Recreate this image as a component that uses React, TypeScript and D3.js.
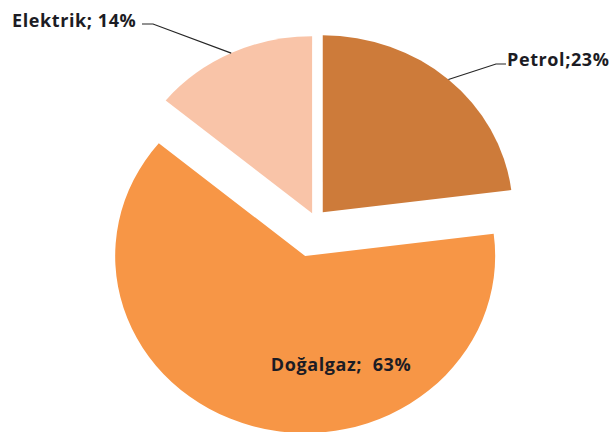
import React, { useEffect, useRef } from 'react';
import * as d3 from 'd3';

const categories = ['Petrol', 'Doğalgaz', 'Elektrik'];
const shares = [23, 63, 14];
const labels = ['Petrol;23%', 'Doğalgaz;  63%', 'Elektrik; 14%'];
const colors = ['#CD7B3A', '#F79646', '#F9C4A8'];

const WIDTH = 613;
const HEIGHT = 432;
const CENTER = { x: 315.5, y: 220.5 };
const RY = 177;
const SX = 190 / 177;
// explosion distance for each slice (px)
const EXPLODE = [11, 37, 8];

// label placement, plus leader elbow when the label sits outside
const LABEL_POS: { x: number; y: number; anchor: string; elbow?: [number, number][] }[] = [
    { x: 507, y: 66, anchor: 'start', elbow: [[496, 64], [506, 64]] },
    { x: 341, y: 371, anchor: 'middle' },
    { x: 12, y: 27, anchor: 'start', elbow: [[153, 24], [142, 24]] },
];

export default function App()
{
    const svgRef = useRef<SVGSVGElement>(null);

    useEffect(() =>
    {
        const svg = d3.select(svgRef.current);
        svg.selectAll('*').remove();
        svg.attr('width', WIDTH).attr('height', HEIGHT);

        const pie = d3.pie<number>().sort(null).startAngle(0).endAngle(2 * Math.PI);
        const arcs = pie(shares);
        const arc = d3.arc<d3.PieArcDatum<number>>().innerRadius(0).outerRadius(RY);

        const apexes = arcs.map((a, i) =>
        {
            const mid = (a.startAngle + a.endAngle) / 2;
            return {
                x: CENTER.x + EXPLODE[i] * Math.sin(mid),
                y: CENTER.y - EXPLODE[i] * Math.cos(mid),
                mid,
            };
        });

        svg.append('g')
            .selectAll('path')
            .data(arcs)
            .join('path')
            .attr('transform', (d, i) => `translate(${ apexes[i].x },${ apexes[i].y }) scale(${ SX },1)`)
            .attr('d', arc)
            .attr('fill', (d, i) => colors[i]);

        // leader lines for the outside labels
        arcs.forEach((a, i) =>
        {
            const pos = LABEL_POS[i];
            if (!pos.elbow) return;
            const p = apexes[i];
            const start: [number, number] = [p.x + RY * SX * Math.sin(p.mid), p.y - RY * Math.cos(p.mid)];
            svg.append('path')
                .attr('d', d3.line()([start, ...pos.elbow]))
                .attr('fill', 'none')
                .attr('stroke', '#262626')
                .attr('stroke-width', 1.2);
        });

        svg.append('g')
            .selectAll('text')
            .data(categories)
            .join('text')
            .attr('x', (d, i) => LABEL_POS[i].x)
            .attr('y', (d, i) => LABEL_POS[i].y)
            .attr('text-anchor', (d, i) => LABEL_POS[i].anchor)
            .attr('font-family', '"Open Sans", Lato, sans-serif')
            .attr('font-weight', 700)
            .attr('font-size', 18)
            .attr('letter-spacing', 0.6)
            .attr('fill', '#1c1c24')
            .style('white-space', 'pre')
            .text((d, i) => labels[i]);
    }, []);

    return (
        <div style={ { position: 'absolute', left: 0, top: 0, background: '#fff' } }>
            <svg ref={ svgRef } style={ { display: 'block' } } />
        </div>
    );
}
